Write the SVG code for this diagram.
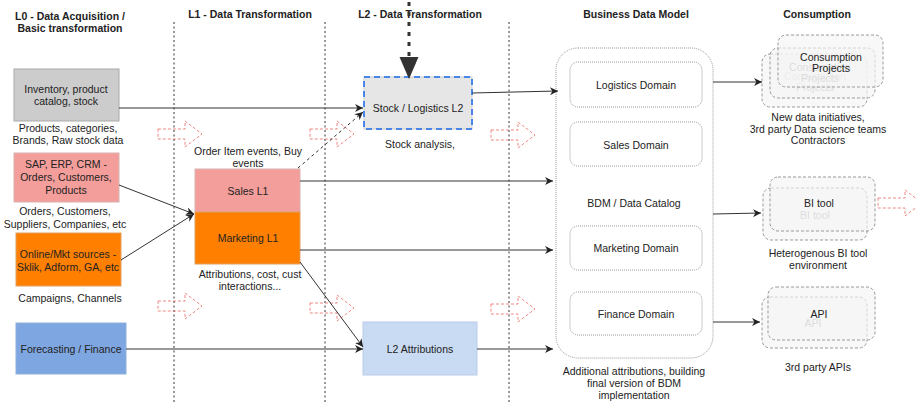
<svg xmlns="http://www.w3.org/2000/svg" width="916" height="402" viewBox="0 0 916 402">
  <style>
    text { font-family: "Liberation Sans", Arial, sans-serif; font-size: 10.5px; fill: #222; text-anchor: middle; }
    .hdr { font-weight: bold; }
    .lane { stroke: #333; stroke-width: 1; stroke-dasharray: 2 2.5; fill: none; }
    .edge { stroke: #333; stroke-width: 1; fill: none; marker-end: url(#arr); }
    .flow { fill: none; stroke: #e8615c; stroke-width: 1; stroke-dasharray: 3 2; opacity: 0.75; }
    .dom { fill: #fff; stroke: #999; stroke-width: 1; stroke-dasharray: 1 1; }
    .stack { fill: #f5f5f5; fill-opacity: 0.65; stroke: #999; stroke-width: 1; stroke-dasharray: 3 2; }
    .faint { fill: #b0b0b0; }
  </style>
  <defs>
    <marker id="arr" viewBox="0 0 10 10" refX="10" refY="5" markerWidth="9" markerHeight="8" orient="auto" markerUnits="userSpaceOnUse">
      <path d="M0,0 L10,5 L0,10 L3,5 Z" fill="#222"/>
    </marker>
    <!-- hollow block arrow showing the direction of data flow -->
    <path id="flowArrow" d="M0,-5 L27,-5 L27,-13 L44,0 L27,13 L27,5 L0,5 Z"/>
  </defs>

  <rect width="916" height="402" fill="#fff"/>

  <!-- column headers -->
  <g id="headers">
    <text class="hdr" x="70" y="20">L0 - Data Acquisition /</text>
    <text class="hdr" x="70" y="32">Basic transformation</text>
    <text class="hdr" x="250" y="18">L1 - Data Transformation</text>
    <text class="hdr" x="420" y="18">L2 - Data Transformation</text>
    <text class="hdr" x="636" y="18">Business Data Model</text>
    <text class="hdr" x="817" y="18">Consumption</text>
  </g>

  <!-- lane separators -->
  <g id="lanes">
    <line class="lane" x1="174" y1="22" x2="174" y2="402"/>
    <line class="lane" x1="325" y1="22" x2="325" y2="402"/>
    <line class="lane" x1="509" y1="22" x2="509" y2="402"/>
  </g>

  <!-- flow direction hints -->
  <g id="flow-hints">
    <use href="#flowArrow" class="flow" x="158" y="134"/>
    <use href="#flowArrow" class="flow" x="158" y="306"/>
    <use href="#flowArrow" class="flow" x="310" y="134"/>
    <use href="#flowArrow" class="flow" x="310" y="308"/>
    <use href="#flowArrow" class="flow" x="491" y="135"/>
    <use href="#flowArrow" class="flow" x="491" y="309"/>
    <use href="#flowArrow" class="flow" x="878" y="203"/>
  </g>

  <!-- L0 sources -->
  <g id="inventory">
    <rect x="14" y="69" width="105" height="52" fill="#cccccc" stroke="#aaa"/>
    <text x="66" y="93">Inventory, product</text>
    <text x="66" y="105">catalog, stock</text>
    <text x="68" y="132">Products, categories,</text>
    <text x="68" y="144">Brands, Raw stock data</text>
  </g>
  <g id="sap-erp-crm">
    <rect x="14" y="153" width="105" height="49" fill="#f49e9b" stroke="#d9b3b0"/>
    <text x="66" y="168">SAP, ERP, CRM -</text>
    <text x="66" y="181">Orders, Customers,</text>
    <text x="66" y="194">Products</text>
    <text x="65" y="215">Orders, Customers,</text>
    <text x="65" y="228">Suppliers, Companies, etc</text>
  </g>
  <g id="online-mkt">
    <rect x="16" y="233" width="105" height="53" fill="#ff8000" stroke="#e0a060"/>
    <text x="68" y="258">Online/Mkt sources -</text>
    <text x="68" y="271">Sklik, Adform, GA, etc</text>
    <text x="70" y="302">Campaigns, Channels</text>
  </g>
  <g id="forecasting">
    <rect x="16" y="323" width="110" height="51" fill="#7ea6e0" stroke="#8fb0dc"/>
    <text x="71" y="353">Forecasting / Finance</text>
  </g>

  <!-- L1 -->
  <g id="sales-l1">
    <text x="248" y="155">Order Item events, Buy</text>
    <text x="248" y="167">events</text>
    <rect x="195" y="169" width="105" height="43" fill="#f49e9b" stroke="#d9b3b0"/>
    <text x="248" y="195">Sales L1</text>
  </g>
  <g id="marketing-l1">
    <rect x="195" y="212" width="105" height="52" fill="#ff8000" stroke="#e0a060"/>
    <text x="248" y="242">Marketing L1</text>
    <text x="250" y="278">Attributions, cost, cust</text>
    <text x="250" y="290">interactions...</text>
  </g>

  <!-- L2 -->
  <g id="stock-logistics-l2">
    <rect x="364" y="77" width="108" height="52" fill="#e6e6e6" stroke="#ccc"/>
    <rect x="364" y="77" width="108" height="52" fill="none" stroke="#4a86e8" stroke-width="2" stroke-dasharray="6 4"/>
    <text x="418" y="112">Stock / Logistics L2</text>
    <text x="420" y="148">Stock analysis,</text>
  </g>
  <g id="l2-attributions">
    <rect x="363" y="322" width="114" height="53" fill="#c9daf3" stroke="#b9cce8"/>
    <text x="420" y="353">L2 Attributions</text>
  </g>

  <!-- Business Data Model -->
  <g id="bdm">
    <rect x="556" y="48" width="157" height="310" rx="22" fill="#fff" stroke="#999" stroke-dasharray="1 1"/>
    <text x="634" y="207">BDM / Data Catalog</text>
    <text x="634" y="375">Additional attributions, building</text>
    <text x="634" y="387">final version of BDM</text>
    <text x="634" y="399">implementation</text>
  </g>
  <g id="logistics-domain">
    <rect class="dom" x="570" y="62" width="132" height="45" rx="8"/>
    <text x="636" y="89">Logistics Domain</text>
  </g>
  <g id="sales-domain">
    <rect class="dom" x="570" y="122" width="132" height="44" rx="8"/>
    <text x="636" y="149">Sales Domain</text>
  </g>
  <g id="marketing-domain">
    <rect class="dom" x="570" y="226" width="132" height="44" rx="8"/>
    <text x="636" y="252">Marketing Domain</text>
  </g>
  <g id="finance-domain">
    <rect class="dom" x="570" y="292" width="132" height="43" rx="8"/>
    <text x="636" y="318">Finance Domain</text>
  </g>

  <!-- Consumption: stacked, semi-transparent cards -->
  <g id="consumption-projects">
    <rect class="stack" x="762" y="54" width="105" height="53" rx="8"/>
    <text class="faint" x="815" y="80">Consumption</text>
    <text class="faint" x="815" y="91">Projects</text>
    <rect class="stack" x="770" y="48" width="105" height="50" rx="8"/>
    <text class="faint" x="820" y="71">Consumption</text>
    <text class="faint" x="820" y="82">Projects</text>
    <rect class="stack" x="778" y="35" width="105" height="52" rx="8"/>
    <text x="831" y="61">Consumption</text>
    <text x="831" y="72">Projects</text>
    <text x="818" y="121">New data initiatives,</text>
    <text x="818" y="133">3rd party Data science teams</text>
    <text x="818" y="144">Contractors</text>
  </g>
  <g id="bi-tool">
    <rect class="stack" x="763" y="188" width="104" height="52" rx="8"/>
    <text class="faint" x="815" y="219">BI tool</text>
    <rect class="stack" x="770" y="177" width="105" height="54" rx="8"/>
    <text x="819" y="207">BI tool</text>
    <text x="818" y="257">Heterogenous BI tool</text>
    <text x="818" y="269">environment</text>
  </g>
  <g id="api">
    <rect class="stack" x="762" y="297" width="105" height="51" rx="8"/>
    <text class="faint" x="813" y="327">API</text>
    <rect class="stack" x="768" y="287" width="107" height="53" rx="8"/>
    <text x="819" y="318">API</text>
    <text x="818" y="371">3rd party APIs</text>
  </g>

  <!-- connectors -->
  <g id="connectors">
    <line class="edge" x1="119" y1="108" x2="363" y2="108"/>
    <line class="edge" x1="119" y1="185" x2="194" y2="214"/>
    <line class="edge" x1="121" y1="260" x2="194" y2="214"/>
    <line class="edge" x1="126" y1="349" x2="363" y2="349"/>
    <line class="edge" x1="298" y1="168" x2="363" y2="112" stroke-dasharray="3 3"/>
    <line class="edge" x1="300" y1="181" x2="553" y2="181"/>
    <line class="edge" x1="300" y1="250" x2="553" y2="250"/>
    <line class="edge" x1="300" y1="262" x2="363" y2="347"/>
    <line class="edge" x1="472" y1="93" x2="558" y2="91"/>
    <line class="edge" x1="477" y1="349" x2="553" y2="349"/>
    <line class="edge" x1="713" y1="82" x2="762" y2="82"/>
    <line class="edge" x1="713" y1="214" x2="761" y2="213"/>
    <line class="edge" x1="713" y1="322" x2="760" y2="322"/>
    <!-- thick dotted incoming arrow onto Stock / Logistics L2 -->
    <line x1="409" y1="2" x2="409" y2="56" stroke="#333" stroke-width="3" stroke-dasharray="4 6"/>
    <polygon points="399.5,57 418.5,57 409,79" fill="#333"/>
  </g>
</svg>
